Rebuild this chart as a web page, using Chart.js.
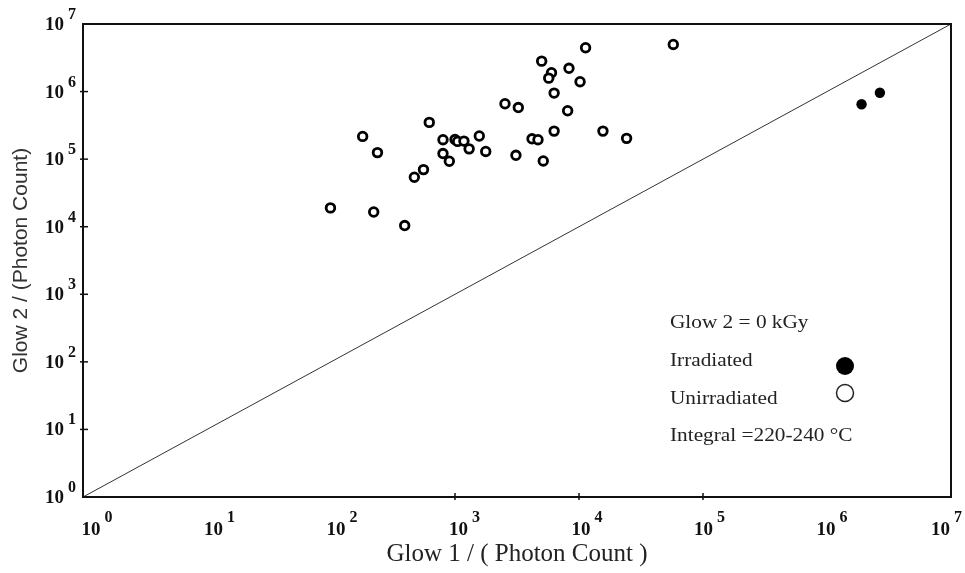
<!DOCTYPE html>
<html lang="en">
<head>
  <meta charset="UTF-8" />
  <title>Glow 1 vs Glow 2</title>
  <script src="https://cdn.jsdelivr.net/npm/chart.js"></script>
  <style>
    html, body {
      margin: 0;
      padding: 0;
      background: #fff;
    }

    #wrap {
      width: 965px;
      height: 573px;
    }
  </style>
</head>
<body>

  <div id="wrap">
    <canvas id="glowChart" width="965" height="573"></canvas>
  </div>

  <script>
    // values (photon counts)
    const unirradiatedX = [11300, 5000, 6000, 5700, 8300, 10200, 6300, 2530, 3240, 8100,
                           620, 180, 237, 800, 1000, 1050, 1180, 1300, 1570, 1770,
                           800, 900, 557, 470, 4180, 4670, 6300, 3100, 5150, 15600,
                           24200, 99, 221, 393, 57600];
    const unirradiatedY = [4.45e6, 2.82e6, 1.9e6, 1.58e6, 2.21e6, 1.4e6, 9.5e5, 6.6e5, 5.8e5, 5.2e5,
                           3.5e5, 2.17e5, 1.25e5, 1.94e5, 1.95e5, 1.83e5, 1.85e5, 1.42e5, 2.2e5, 1.3e5,
                           1.21e5, 9.3e4, 7.0e4, 5.4e4, 2.0e5, 1.94e5, 2.6e5, 1.14e5, 9.4e4, 2.6e5,
                           2.03e5, 1.9e4, 1.65e4, 1.04e4, 4.98e6];
    const irradiatedX = [1.9e6, 2.67e6];
    const irradiatedY = [6.5e5, 9.6e5];
    const lineX = [1, 1e7];
    const lineY = [1, 1e7];
    const decades = [0, 1, 2, 3, 4, 5, 6, 7];
    const legendLines = ["Glow 2 = 0 kGy", "Irradiated", "Unirradiated", "Integral =220-240 \u00B0C"];

    const toPoints = (xs, ys) => xs.map((x, i) => ({ x: x, y: ys[i] }));
    const isDecade = v => Math.abs(Math.log10(v) - Math.round(Math.log10(v))) < 1e-9;

    // draws the frame, the decade ticks, the 10^n labels and the text key
    const decor = {
      id: 'decor',
      afterDraw(chart) {
        const { ctx, chartArea: a, scales } = chart;
        const xs = scales.x, ys = scales.y;
        ctx.save();
        ctx.strokeStyle = '#111';
        ctx.lineWidth = 2;
        ctx.strokeRect(a.left, a.top, a.right - a.left, a.bottom - a.top);

        ctx.lineWidth = 1.5;
        decades.forEach(k => {
          if (k > 0 && k < 7) {
            const py = ys.getPixelForValue(Math.pow(10, k));
            ctx.beginPath();
            ctx.moveTo(a.left - 3, py);
            ctx.lineTo(a.left + 5, py);
            ctx.stroke();
          }
          if (k >= 3 && k <= 5) {
            const px = xs.getPixelForValue(Math.pow(10, k));
            ctx.beginPath();
            ctx.moveTo(px, a.bottom - 4);
            ctx.lineTo(px, a.bottom + 3);
            ctx.stroke();
          }
        });

        ctx.fillStyle = '#111';
        ctx.textBaseline = 'alphabetic';
        const base = 'bold 19px "Liberation Serif"';
        const sup = 'bold 16px "Liberation Serif"';
        decades.forEach(k => {
          ctx.font = base;
          const w10 = ctx.measureText('10').width;
          ctx.font = sup;
          const we = ctx.measureText(String(k)).width;
          const total = w10 + 4 + we;

          // x axis labels
          let cx = xs.getPixelForValue(Math.pow(10, k)) + 14 - k * 1.5;
          if (cx + total / 2 > 962) cx = 962 - total / 2;
          const lx = cx - total / 2;
          ctx.font = base;
          ctx.textAlign = 'left';
          ctx.fillText('10', lx, 535);
          ctx.font = sup;
          ctx.fillText(String(k), lx + w10 + 4, 522);

          // y axis labels
          const py = ys.getPixelForValue(Math.pow(10, k));
          ctx.font = base;
          ctx.textAlign = 'right';
          ctx.fillText('10', 64, py + 6);
          ctx.font = sup;
          ctx.textAlign = 'left';
          ctx.fillText(String(k), 68, py - 5);
        });

        // key, slightly widened like the scanned original
        ctx.font = '19px "Liberation Serif"';
        ctx.textAlign = 'left';
        ctx.textBaseline = 'middle';
        ctx.fillStyle = '#222';
        const keyY = [323, 361, 399, 436];
        legendLines.forEach((t, i) => {
          ctx.save();
          ctx.translate(670, keyY[i]);
          ctx.scale(1.12, 1);
          ctx.fillText(t, 0, 0);
          ctx.restore();
        });
        ctx.beginPath();
        ctx.arc(845, 366, 9, 0, Math.PI * 2);
        ctx.fillStyle = '#000';
        ctx.fill();
        ctx.beginPath();
        ctx.arc(845, 393, 8.5, 0, Math.PI * 2);
        ctx.lineWidth = 1.5;
        ctx.strokeStyle = '#222';
        ctx.stroke();
        ctx.restore();
      }
    };

    const ctx = document.getElementById('glowChart').getContext('2d');

    new Chart(ctx, {
      type: 'scatter',
      data: {
        datasets: [
          {
            label: 'Glow 1 = Glow 2',
            type: 'line',
            data: toPoints(lineX, lineY),
            borderColor: '#333',
            borderWidth: 1,
            pointRadius: 0,
            fill: false,
            order: 3
          },
          {
            label: 'Unirradiated',
            data: toPoints(unirradiatedX, unirradiatedY),
            pointRadius: 4.3,
            pointBorderWidth: 2.8,
            borderColor: '#000',
            backgroundColor: '#fff',
            order: 1
          },
          {
            label: 'Irradiated',
            data: toPoints(irradiatedX, irradiatedY),
            pointRadius: 5.2,
            pointBorderWidth: 0,
            borderColor: '#000',
            backgroundColor: '#000',
            order: 2
          }
        ]
      },
      options: {
        responsive: false,
        animation: false,
        layout: {
          padding: { left: 0, top: 24, right: 14, bottom: 0 }
        },
        plugins: {
          legend: { display: false },
          tooltip: { enabled: false }
        },
        scales: {
          x: {
            type: 'logarithmic',
            min: 1,
            max: 1e7,
            afterBuildTicks: s => { s.ticks = s.ticks.filter(t => isDecade(t.value)); },
            afterFit: s => { s.height = 76; },
            ticks: { display: false },
            grid: { display: false },
            border: { display: false },
            title: {
              display: true,
              text: 'Glow 1 / ( Photon Count )',
              color: '#222',
              font: { family: '"Liberation Serif"', size: 25 },
              padding: { top: 0, bottom: 4 }
            }
          },
          y: {
            type: 'logarithmic',
            min: 1,
            max: 1e7,
            afterBuildTicks: s => { s.ticks = s.ticks.filter(t => isDecade(t.value)); },
            afterFit: s => { s.width = 83; },
            ticks: { display: false },
            grid: { display: false },
            border: { display: false },
            title: {
              display: true,
              text: 'Glow 2 / (Photon Count)',
              color: '#333',
              font: { family: '"Liberation Sans"', size: 21 },
              padding: { top: 9, bottom: 0 }
            }
          }
        }
      },
      plugins: [decor]
    });
  </script>

</body>
</html>
